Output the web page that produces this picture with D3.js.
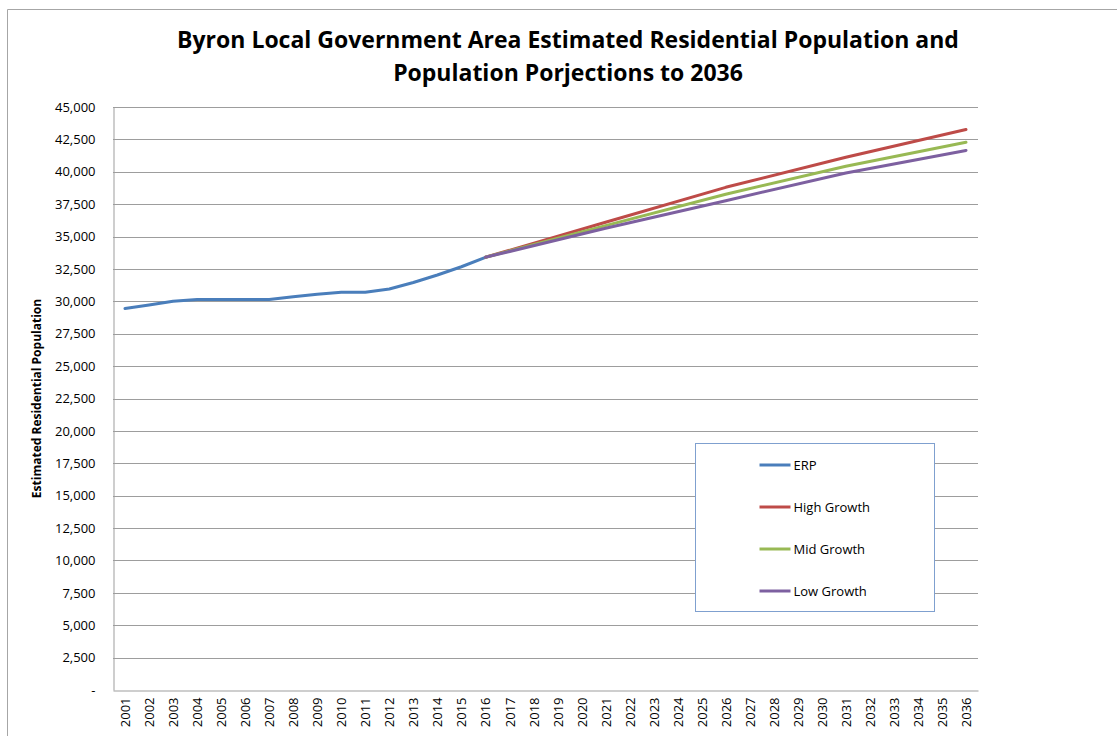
<!DOCTYPE html>
<html>
<head>
<meta charset="utf-8">
<script src="https://cdn.jsdelivr.net/npm/d3@7"></script>
<style>
  html, body { margin: 0; padding: 0; background: #fff; }
  svg { display: block; }
  text { font-family: "Open Sans", "DejaVu Sans", sans-serif; }
</style>
</head>
<body>
<svg id="chart" width="1117" height="736"></svg>
<script>
// Years shown on the category axis
const years = d3.range(2001, 2037);

// Estimated Residential Population, 2001-2016
const erpYears = [2001, 2002, 2003, 2004, 2005, 2006, 2007, 2008, 2009, 2010, 2011, 2012, 2013, 2014, 2015, 2016];
const erpValues = [29450, 29720, 30000, 30150, 30150, 30150, 30150, 30350, 30550, 30700, 30700, 30950, 31450, 32030, 32670, 33400];

// Projection series, five-year steps from 2016
const projYears = [2016, 2021, 2026, 2031, 2036];
const highValues = [33400, 36100, 38800, 41120, 43260];
const midValues = [33400, 35840, 38270, 40430, 42280];
const lowValues = [33400, 35640, 37770, 39910, 41650];

const yTicks = d3.range(0, 45001, 2500);

const seriesNames = ["ERP", "High Growth", "Mid Growth", "Low Growth"];
const seriesColors = ["#4A7EBB", "#BE4B48", "#98B954", "#7D60A0"];

const svg = d3.select("#chart");
const W = 1117, H = 736;
const plot = { left: 113, right: 978, top: 107, bottom: 690 };

// Outer chart frame (top and left edges visible)
svg.append("path")
  .attr("d", `M7.5,${H} L7.5,9.5 L${W},9.5`)
  .attr("fill", "none")
  .attr("stroke", "#a6a6a6")
  .attr("stroke-width", 1);

const x = d3.scalePoint()
  .domain(years)
  .range([plot.left, plot.right])
  .padding(0.5);

const y = d3.scaleLinear()
  .domain([0, 45000])
  .range([plot.bottom, plot.top]);

// Horizontal gridlines
svg.append("g")
  .selectAll("line")
  .data(yTicks.filter(d => d > 0))
  .join("line")
  .attr("x1", plot.left)
  .attr("x2", plot.right)
  .attr("y1", d => Math.round(y(d)) + 0.5)
  .attr("y2", d => Math.round(y(d)) + 0.5)
  .attr("stroke", "#9d9d9d")
  .attr("stroke-width", 1);

// Y axis
const fmt = d3.format(",");
const yAxis = svg.append("g")
  .attr("transform", `translate(${plot.left + 0.5},0)`)
  .call(d3.axisLeft(y).tickValues(yTicks).tickSize(0).tickPadding(18)
    .tickFormat(d => d === 0 ? "-" : fmt(d)));
yAxis.select(".domain").attr("stroke", "#9d9d9d");
yAxis.selectAll("text")
  .attr("font-size", 13)
  .attr("fill", "#000")
  .style("font-family", "Open Sans, sans-serif");

// X axis
const xAxis = svg.append("g")
  .attr("transform", `translate(0,${plot.bottom + 0.5})`)
  .call(d3.axisBottom(x).tickSize(0).tickPadding(0));
xAxis.select(".domain").attr("stroke", "#9d9d9d");
xAxis.selectAll("text")
  .attr("font-size", 13)
  .attr("fill", "#000")
  .attr("text-anchor", "end")
  .attr("transform", "translate(0,7) rotate(-90)")
  .attr("x", 0)
  .attr("y", 0)
  .attr("dy", "0.35em");

// Axis title
svg.append("text")
  .attr("transform", `translate(37,${(plot.top + plot.bottom) / 2}) rotate(-90)`)
  .attr("text-anchor", "middle")
  .attr("dy", "0.35em")
  .attr("font-size", 12)
  .attr("font-weight", "bold")
  .text("Estimated Residential Population");

// Chart title
const title = svg.append("text")
  .attr("text-anchor", "middle")
  .attr("font-size", 23)
  .attr("font-weight", "bold");
title.append("tspan").attr("x", 568).attr("y", 48)
  .text("Byron Local Government Area Estimated Residential Population and");
title.append("tspan").attr("x", 568).attr("y", 81)
  .text("Population Porjections to 2036");

// Series lines
const line = d3.line()
  .x(d => x(d[0]))
  .y(d => y(d[1]));

const series = [
  d3.zip(erpYears, erpValues),
  d3.zip(projYears, highValues),
  d3.zip(projYears, midValues),
  d3.zip(projYears, lowValues)
];

svg.append("g")
  .selectAll("path")
  .data(series)
  .join("path")
  .attr("d", line)
  .attr("fill", "none")
  .attr("stroke", (d, i) => seriesColors[i])
  .attr("stroke-width", 3)
  .attr("stroke-linejoin", "round")
  .attr("stroke-linecap", "round");

// Legend
const legend = svg.append("g").attr("transform", "translate(695.5,443.5)");
legend.append("rect")
  .attr("width", 239)
  .attr("height", 168)
  .attr("fill", "#fff")
  .attr("stroke", "#7FA0CF")
  .attr("stroke-width", 1);

const rows = legend.selectAll("g.row")
  .data(seriesNames)
  .join("g")
  .attr("class", "row")
  .attr("transform", (d, i) => `translate(0,${21.5 + i * 42})`);
rows.append("line")
  .attr("x1", 64).attr("x2", 95)
  .attr("stroke", (d, i) => seriesColors[i])
  .attr("stroke-width", 3);
rows.append("text")
  .attr("x", 98)
  .attr("dy", "0.35em")
  .attr("font-size", 13)
  .text(d => d);
</script>
</body>
</html>
